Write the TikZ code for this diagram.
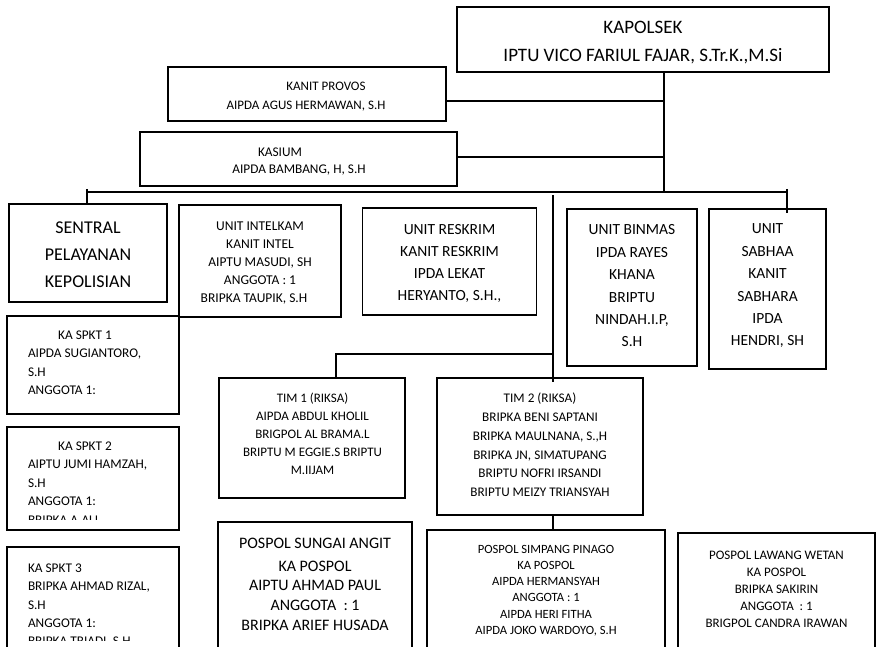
\documentclass[tikz,border=0pt]{standalone}
\usepackage{fontspec}
\setmainfont{Carlito}
\newcommand{\fsz}[2]{\fontsize{#1}{#2}\selectfont}
\begin{document}
\begin{tikzpicture}[x=1pt,y=-1pt,
  box/.style={draw=black, line width=1.6pt, inner sep=0pt, outer sep=0pt},
  conn/.style={draw=black, line width=1.6pt},
  txt/.style={inner sep=0pt, outer sep=0pt, align=center, text=black},
  ltxt/.style={inner sep=0pt, outer sep=0pt, align=left, anchor=west, text=black},
]
\clip (0,0) rectangle (880,647);
\fill[white] (0,0) rectangle (880,647);

% ---------- boxes ----------
\node[box, minimum width=372pt, minimum height=65pt] (kapolsek) at (643,39.5) {};
\node[box, minimum width=278pt, minimum height=54pt] (provos) at (307,94) {};
\node[box, minimum width=317pt, minimum height=54pt] (kasium) at (298.5,159) {};
\node[box, minimum width=158pt, minimum height=98pt] (sentral) at (88,253) {};
\node[box, minimum width=162pt, minimum height=112pt] (intelkam) at (260,261) {};
\node[box, minimum width=174pt, minimum height=107pt] (reskrim) at (449.5,261.5) {};
\node[box, minimum width=130pt, minimum height=157pt] (binmas) at (632,287.5) {};
\node[box, minimum width=117pt, minimum height=160pt] (sabhaa) at (767.5,289) {};
\node[box, minimum width=172pt, minimum height=98pt] (spkt1) at (93,365) {};
\node[box, minimum width=172pt, minimum height=103pt] (spkt2) at (93,478.5) {};
\node[box, minimum width=172pt, minimum height=153pt] (spkt3) at (93,623.5) {};
\node[box, minimum width=186pt, minimum height=120pt] (tim1) at (312,438) {};
\node[box, minimum width=206pt, minimum height=137pt] (tim2) at (540,446.5) {};
\node[box, minimum width=194pt, minimum height=178pt] (pospol1) at (315,611) {};
\node[box, minimum width=238pt, minimum height=170pt] (pospol2) at (546,615) {};
\node[box, minimum width=197pt, minimum height=167pt] (pospol3) at (776.5,616.5) {};

% ---------- junction points ----------
\coordinate (jtop) at (664,192);
\coordinate (jprov) at (664,101);
\coordinate (jkas) at (664,157);
\coordinate (barL) at (87,192);
\coordinate (barR) at (787,192);
\coordinate (barRt) at (787,189);
\coordinate (sabt) at (787,213);
\coordinate (barLt) at (87,189);
\coordinate (cbar) at (553,195);
\coordinate (ctim) at (553,382);
\coordinate (t1j) at (336,354);

% ---------- connectors ----------
\draw[conn] (jtop |- kapolsek.south) -- (jtop);
\draw[conn] (jprov -| provos.east) -- (jprov);
\draw[conn] (jkas -| kasium.east) -- (jkas);
\draw[conn] (barL) -- (barR);
\draw[conn] (barLt) -- (barL |- sentral.north);
\draw[conn] (barRt) -- (sabt);
\draw[conn] (cbar) -- (ctim);
\draw[conn] (t1j |- tim1.north) -- (t1j) -- (t1j -| cbar);
\draw[conn] (cbar |- tim2.south) -- (cbar |- pospol2.north);

% ---------- texts ----------
\node[txt, font=\fsz{19}{28}] (tkap) at (643,43) {KAPOLSEK\\IPTU VICO FARIUL FAJAR, S.Tr.K.,M.Si};
\node[txt, font=\fsz{13}{15}] (tprov1) at (326,86) {KANIT PROVOS};
\node[txt, font=\fsz{13}{15}] (tprov2) at (306,106) {AIPDA AGUS HERMAWAN, S.H};
\node[txt, font=\fsz{13.3}{15}] (tkas1) at (280,152) {KASIUM};
\node[txt, font=\fsz{13.3}{15}] (tkas2) at (299,170) {AIPDA BAMBANG, H, S.H};
\node[txt, font=\fsz{18}{27}] (tsen) at (88,255) {SENTRAL\\PELAYANAN\\KEPOLISIAN};
\node[txt, font=\fsz{13.5}{18}] (tint) at (260,263) {UNIT INTELKAM\\KANIT INTEL\\AIPTU MASUDI, SH\\ANGGOTA : 1\\BRIPKA TAUPIK, S.H\hspace*{12pt}};
\node[txt, font=\fsz{15.5}{22.3}] (tres) at (449.5,263.5) {UNIT RESKRIM\\KANIT RESKRIM\\IPDA LEKAT\\HERYANTO, S.H.,};
\node[txt, font=\fsz{15.5}{22.4}] (tbin) at (632,286) {UNIT BINMAS\\IPDA RAYES\\KHANA\\BRIPTU\\NINDAH.I.P,\\S.H};
\node[txt, font=\fsz{15.5}{22.4}] (tsab) at (767.5,286) {UNIT\\SABHAA\\KANIT\\SABHARA\\IPDA\\HENDRI, SH};

\node[txt, font=\fsz{13.3}{18.5}] (ts1t) at (85,335) {KA SPKT 1};
\node[ltxt, font=\fsz{13.3}{18.5}] (ts1) at (28,372) {AIPDA SUGIANTORO,\\S.H\\ANGGOTA 1:};
\node[txt, font=\fsz{13.3}{18.5}] (ts2t) at (85,446) {KA SPKT 2};
\node[ltxt, font=\fsz{13.3}{18.5}] (ts2) at (28,483) {AIPTU JUMI HAMZAH,\\S.H\\ANGGOTA 1:};
\begin{scope}
\clip (8,500) rectangle (178,519);
\node[ltxt, font=\fsz{13.3}{18.5}] (ts2c) at (28,520.5) {BRIPKA A.ALI};
\end{scope}
\node[ltxt, font=\fsz{13.3}{18.5}] (ts3) at (28,595.75) {KA SPKT 3\\BRIPKA AHMAD RIZAL,\\S.H\\ANGGOTA 1:};
\begin{scope}
\clip (8,625) rectangle (178,640.5);
\node[ltxt, font=\fsz{13.3}{18.5}] (ts3c) at (28,642) {BRIPKA TRIADI, S.H};
\end{scope}

\node[txt, font=\fsz{13}{18}] (tt1) at (312.5,434) {TIM 1 (RIKSA)\\AIPDA ABDUL KHOLIL\\BRIGPOL AL BRAMA.L\\BRIPTU M EGGIE.S BRIPTU\\M.IIJAM};
\node[txt, font=\fsz{13.2}{18.8}] (tt2) at (540,445) {TIM 2 (RIKSA)\\BRIPKA BENI SAPTANI\\BRIPKA MAULNANA, S.,H\\BRIPKA JN, SIMATUPANG\\BRIPTU NOFRI IRSANDI\\BRIPTU MEIZY TRIANSYAH};

\node[txt, font=\fsz{16}{19.7}] (tp1t) at (315,543) {POSPOL SUNGAI ANGIT};
\node[txt, font=\fsz{16}{19.7}] (tp1) at (315,595.5) {KA POSPOL\\AIPTU AHMAD PAUL\\ANGGOTA~~: 1\\BRIPKA ARIEF HUSADA};
\node[txt, font=\fsz{12.6}{16.2}] (tp2) at (546,590.5) {POSPOL SIMPANG PINAGO\\KA POSPOL\\AIPDA HERMANSYAH\\ANGGOTA : 1\\AIPDA HERI FITHA\\AIPDA JOKO WARDOYO, S.H};
\node[txt, font=\fsz{13}{17}] (tp3) at (776.5,589) {POSPOL LAWANG WETAN\\KA POSPOL\\BRIPKA SAKIRIN\\ANGGOTA~~: 1\\BRIGPOL CANDRA IRAWAN};
\end{tikzpicture}
\end{document}
